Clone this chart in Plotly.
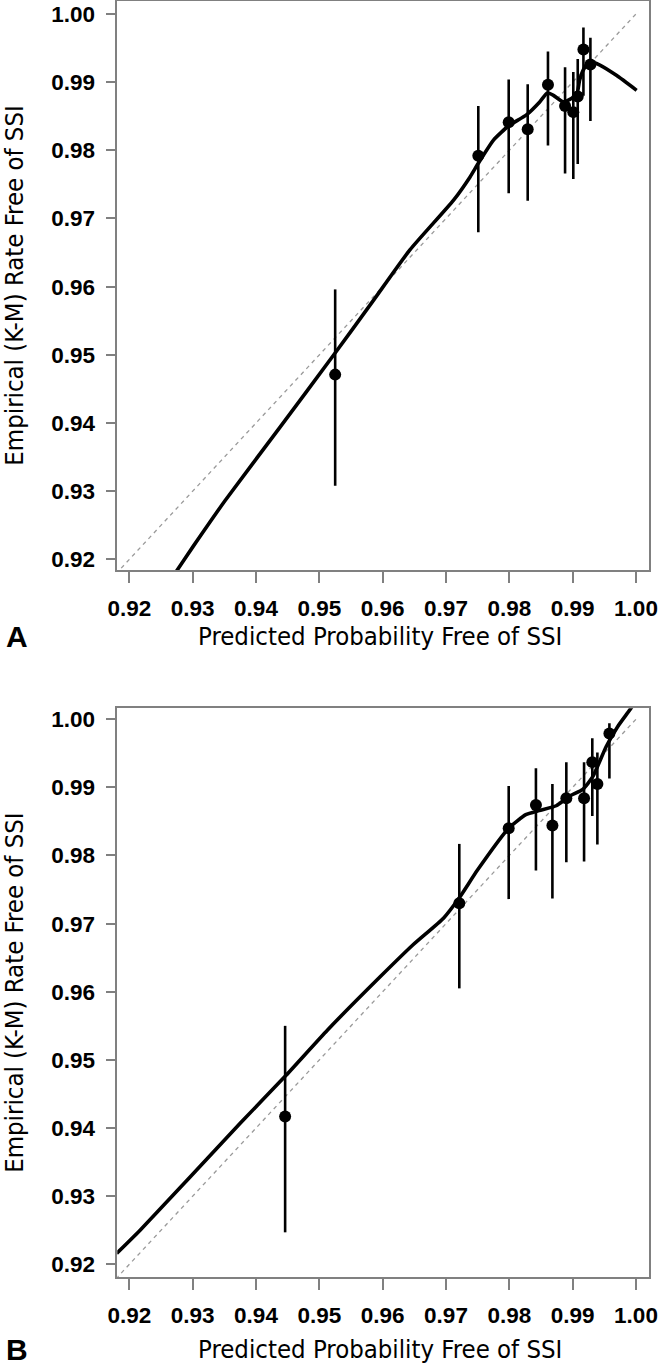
import plotly.graph_objects as go

# Panel A - decile points (predicted vs observed K-M) with 95% CI
a_pred = [0.9525, 0.9751, 0.9799, 0.9829, 0.9861, 0.9888, 0.9901, 0.9908, 0.9917, 0.9928]
a_obs = [0.9471, 0.9792, 0.9841, 0.9831, 0.9896, 0.9865, 0.9856, 0.9879, 0.9948, 0.9926]
a_upper = [0.9596, 0.9865, 0.9904, 0.9897, 0.9945, 0.9922, 0.9915, 0.9934, 0.9980, 0.9965]
a_lower = [0.9308, 0.9680, 0.9737, 0.9726, 0.9807, 0.9766, 0.9758, 0.9780, 0.9880, 0.9843]

# Panel A - smoothed calibration curve
a_curve_x = [0.9268, 0.9271, 0.9300, 0.9351, 0.9438, 0.9522, 0.9584, 0.9643, 0.9712,
             0.9738, 0.9751, 0.9775, 0.9799, 0.9827, 0.9848, 0.9860, 0.9869, 0.9885, 0.9898,
             0.9907, 0.9911, 0.9918, 0.9927, 0.9943, 0.9969, 1.0001]
a_curve_y = [0.9174, 0.9178, 0.9218, 0.9286, 0.9394, 0.9499, 0.9578, 0.9654, 0.9727,
             0.9761, 0.9781, 0.9815, 0.9836, 0.9852, 0.9871, 0.9884, 0.9881, 0.9871, 0.9876,
             0.9884, 0.9903, 0.9920, 0.9930, 0.9925, 0.9910, 0.9888]

# Panel B - decile points with 95% CI
b_pred = [0.9446, 0.9721, 0.9799, 0.9842, 0.9868, 0.9890, 0.9918, 0.9931, 0.9939, 0.9958]
b_obs = [0.9417, 0.9730, 0.9840, 0.9874, 0.9844, 0.9884, 0.9884, 0.9937, 0.9905, 0.9979]
b_upper = [0.9550, 0.9817, 0.9902, 0.9928, 0.9905, 0.9937, 0.9937, 0.9972, 0.9951, 0.9994]
b_lower = [0.9247, 0.9605, 0.9736, 0.9778, 0.9737, 0.9790, 0.9791, 0.9858, 0.9816, 0.9913]

# Panel B - smoothed calibration curve
b_curve_x = [0.9180, 0.9217, 0.9375, 0.9446, 0.9513, 0.9596, 0.9648, 0.9696, 0.9721, 0.9750,
             0.9799, 0.9826, 0.9847, 0.9874, 0.9895, 0.9916, 0.9932, 0.9953, 0.9971, 0.9992, 1.0005]
b_curve_y = [0.9216, 0.9250, 0.9407, 0.9476, 0.9544, 0.9622, 0.9669, 0.9708, 0.9738, 0.9779,
             0.9840, 0.9860, 0.9866, 0.9873, 0.9887, 0.9897, 0.9916, 0.9960, 0.9989, 1.0016, 1.0035]

# reference line (perfect calibration)
ref_line = [0.917, 1.0]

tick_vals = [0.92, 0.93, 0.94, 0.95, 0.96, 0.97, 0.98, 0.99, 1.00]
tick_text = ["0.92", "0.93", "0.94", "0.95", "0.96", "0.97", "0.98", "0.99", "1.00"]

W, H = 661, 1367
cond = "DejaVu Sans Condensed, Liberation Sans Narrow, Arial Narrow"
tick_font = dict(family="Liberation Sans, Arial", size=22.5, color="black", weight="bold")
title_font = dict(family=cond, size=25.5, color="black")

fig = go.Figure()

panels = [
    ("x", "y", a_pred, a_obs, a_upper, a_lower, a_curve_x, a_curve_y),
    ("x2", "y2", b_pred, b_obs, b_upper, b_lower, b_curve_x, b_curve_y),
]

for xa, ya, px, py, up, lo, cx, cy in panels:
    # dashed diagonal
    fig.add_trace(go.Scatter(
        x=ref_line, y=ref_line, mode="lines", xaxis=xa, yaxis=ya,
        line=dict(color="#9a9a9a", width=1.3, dash="4px,4px"), showlegend=False, hoverinfo="skip"
    ))
    # smoothed curve
    fig.add_trace(go.Scatter(
        x=cx, y=cy, mode="lines", xaxis=xa, yaxis=ya,
        line=dict(color="black", width=3.6, shape="spline", smoothing=0.5), showlegend=False
    ))
    # points with CI
    fig.add_trace(go.Scatter(
        x=px, y=py, mode="markers", xaxis=xa, yaxis=ya,
        marker=dict(color="black", size=12),
        error_y=dict(type="data", symmetric=False,
                     array=[u - v for u, v in zip(up, py)],
                     arrayminus=[v - l for v, l in zip(py, lo)],
                     color="black", thickness=2.6, width=0),
        showlegend=False
    ))

x_dom = [117.3 / W, 649.3 / W]
ya_dom = [1 - 570.3 / H, 1 - 1 / H]
yb_dom = [1 - 1277.3 / H, 1 - 708.3 / H]

axis_common = dict(
    tickvals=tick_vals, ticktext=tick_text, ticks="outside", tickcolor="#808080",
    tickwidth=1.5, showline=True, linecolor="#808080", linewidth=1.5, mirror=True,
    showgrid=False, zeroline=False, tickfont=tick_font, automargin=False,
    ticklabeloverflow="allow",
)

fig.update_layout(
    width=W, height=H,
    margin=dict(l=0, r=0, t=0, b=0),
    plot_bgcolor="white", paper_bgcolor="white",
    xaxis=dict(domain=x_dom, range=[0.9181, 1.0021], anchor="y", ticklen=11, ticklabelstandoff=6, **axis_common),
    yaxis=dict(domain=ya_dom, range=[0.9184, 1.0019], anchor="x", ticklen=10, ticklabelstandoff=6, **axis_common),
    xaxis2=dict(domain=x_dom, range=[0.9181, 1.0021], anchor="y2", ticklen=11, ticklabelstandoff=6, **axis_common),
    yaxis2=dict(domain=yb_dom, range=[0.9181, 1.0016], anchor="x2", ticklen=10, ticklabelstandoff=6, **axis_common),
)

# axis titles and panel letters (title y in page pixels)
x_title = "Predicted Probability Free of SSI"
y_title = "Empirical (K-M) Rate Free of SSI"
for y_plot_top, y_plot_bot, y_lab, letter in [(1, 570.3, 636, "A"), (708.3, 1277.3, 1349, "B")]:
    fig.add_annotation(x=380 / W, y=1 - y_lab / H, xref="paper", yref="paper",
                       text=x_title, showarrow=False, font=title_font, yanchor="middle")
    fig.add_annotation(x=14 / W, y=1 - ((y_plot_top + y_plot_bot) / 2) / H, xref="paper", yref="paper",
                       text=y_title, showarrow=False, font=title_font, textangle=-90,
                       xanchor="center", yanchor="middle")
    fig.add_annotation(x=4 / W, y=1 - y_lab / H, xref="paper", yref="paper",
                       text="<b>" + letter + "</b>", showarrow=False, xanchor="left", yanchor="middle",
                       font=dict(family="Liberation Sans, Arial", size=30, color="black"))

# page body has a default 8px margin; drop it so the figure sits at the window origin
fig.write_html("out.html", config={"displayModeBar": False},
               post_script="document.body.style.margin='0px';")
